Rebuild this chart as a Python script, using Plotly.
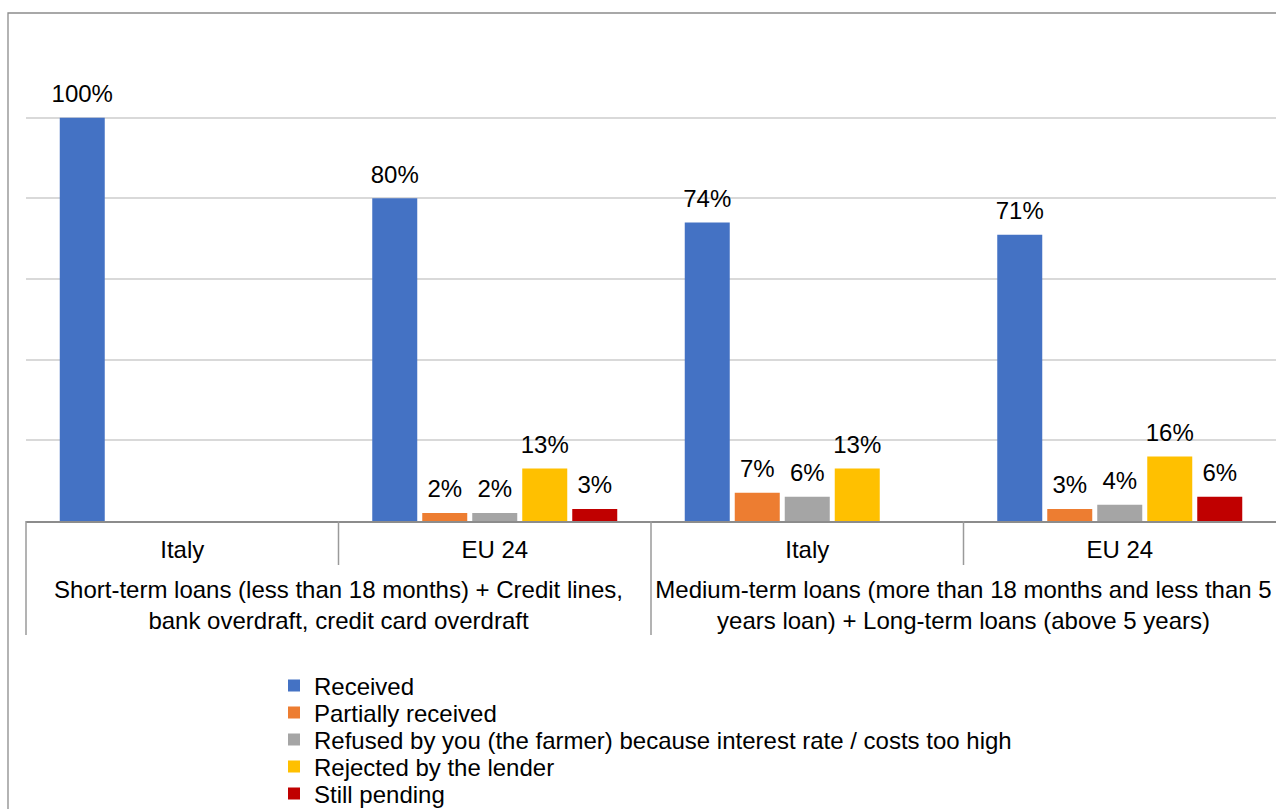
import plotly.graph_objects as go

outer_short = "Short-term loans (less than 18 months) + Credit lines,<br>bank overdraft, credit card overdraft"
outer_medium = "Medium-term loans (more than 18 months and less than 5<br>years loan) + Long-term loans (above 5 years)"
outer_groups = [outer_short, outer_medium]
group_of_bar = [outer_short, outer_short, outer_medium, outer_medium]
inner_labels = ["Italy", "EU 24", "Italy", "EU 24"]

series_names = [
    "Received",
    "Partially received",
    "Refused by you (the farmer) because interest rate / costs too high",
    "Rejected by the lender",
    "Still pending",
]
received = [100, 80, 74, 71]
partially_received = [None, 2, 7, 3]
refused = [None, 2, 6, 4]
rejected = [None, 13, 13, 16]
still_pending = [None, 3, None, 6]
series_values = [received, partially_received, refused, rejected, still_pending]
colors = ["#4472C4", "#ED7D31", "#A5A5A5", "#FFC000", "#C00000"]

FONT = "Liberation Sans, Arial, sans-serif"
FS = 24

X0, Y0, H = 26, 521, 484
def px(xp):
    return (xp - X0) / 1250
def py(yp):
    return (Y0 - yp) / H

# unique category keys (group + country), shown with the country name only
keys = [f"{g.split(' (')[0]} | {c}" for g, c in zip(group_of_bar, inner_labels)]
n_cat = len(keys)
# centre of each outer group, in category-index units
outer_pos = []
for g in outer_groups:
    idx = [i for i, gg in enumerate(group_of_bar) if gg == g]
    outer_pos.append(sum(idx) / len(idx))

fig = go.Figure()
legend_ids = ["legend", "legend2", "legend3", "legend4", "legend5"]
for name, vals, col, lg in zip(series_names, series_values, colors, legend_ids):
    fig.add_trace(go.Bar(
        x=keys, y=vals, name=name, marker=dict(color=col, line=dict(width=0)),
        legend=lg,
    ))
for name, vals, col in zip(series_names, series_values, colors):
    fig.add_trace(go.Scatter(
        x=keys, y=vals, mode="markers+text", showlegend=False,
        text=[None if v is None else f"{v}%" for v in vals],
        textposition="top center",
        textfont=dict(family=FONT, size=FS, color="#000000"),
        marker=dict(size=14, opacity=0),
        hoverinfo="skip",
    ))
# empty carrier trace so that the group-label axis (x2) is drawn
fig.add_trace(go.Scatter(x=outer_pos, y=[None] * len(outer_pos), xaxis="x2", yaxis="y",
                         mode="markers", showlegend=False, hoverinfo="skip"))

shapes = []
line_col = "#9a9a9a"
shapes.append(dict(type="rect", xref="paper", yref="paper",
                   x0=px(8), x1=1.2, y0=-1.0, y1=py(13),
                   line=dict(color="#8c8c8c", width=1.3), layer="below"))
for xp, yb in [(0, 635), (0.25, 565), (0.5, 635), (0.75, 565)]:
    shapes.append(dict(type="line", xref="paper", yref="paper",
                       x0=xp, x1=xp, y0=0, y1=py(yb),
                       line=dict(color=line_col, width=1.5)))

legend_common = dict(orientation="v", xanchor="left", yanchor="middle",
                     font=dict(family=FONT, size=FS, color="#000000"),
                     bgcolor="rgba(0,0,0,0)", itemclick=False, borderwidth=0)
layout_legends = {}
for i, lg in enumerate(legend_ids):
    layout_legends[lg] = dict(legend_common, x=px(274), y=py(686 + 27 * i))

fig.update_layout(
    width=1276, height=809,
    margin=dict(l=26, r=0, t=37, b=288, autoexpand=False),
    paper_bgcolor="white", plot_bgcolor="white",
    barmode="group", bargap=0.2, bargroupgap=0.1,
    scattermode="group", scattergap=0.2,
    font=dict(family=FONT, size=FS, color="#000000"),
    showlegend=True,
    shapes=shapes,
    **layout_legends,
)
fig.update_layout(
    xaxis=dict(type="category", range=[-0.5, n_cat - 0.5],
               tickmode="array", tickvals=keys, ticktext=inner_labels,
               showline=True, linecolor="#8c8c8c", linewidth=1.5,
               showgrid=False, ticks="outside", ticklen=6, tickcolor="rgba(0,0,0,0)",
               automargin=False, tickfont=dict(family=FONT, size=FS, color="#000000")),
    xaxis2=dict(overlaying="x", anchor="y", side="bottom", type="linear",
                range=[-0.5, n_cat - 0.5], tickmode="array",
                tickvals=outer_pos, ticktext=outer_groups,
                showline=False, showgrid=False, zeroline=False,
                ticks="outside", ticklen=47, tickcolor="rgba(0,0,0,0)",
                automargin=False, fixedrange=True,
                tickfont=dict(family=FONT, size=FS, color="#000000")),
    yaxis=dict(range=[0, 120], dtick=20, showticklabels=False, showgrid=True,
               gridcolor="#d9d9d9", gridwidth=1.5, zeroline=False, showline=False,
               automargin=False),
)

fig.write_html("out.html")
